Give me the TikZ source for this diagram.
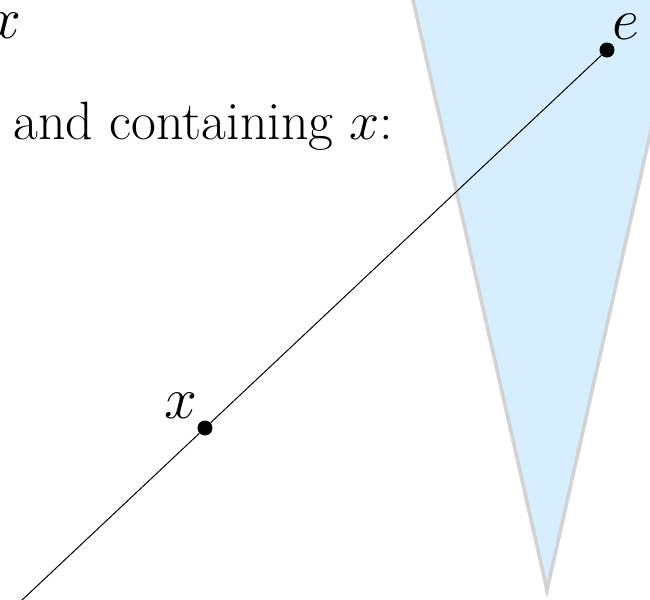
\RequirePackage{fix-cm}
\documentclass[tikz,border=0pt]{standalone}
\usetikzlibrary{positioning}
\definecolor{coneFill}{HTML}{D6EEFF}
\definecolor{coneBorder}{HTML}{D3D3D3}

\begin{document}
\begin{tikzpicture}[x=0.5pt, y=-0.5pt,
    dot/.style={circle, fill=black, inner sep=0pt, minimum size=7.5pt},
    lbl/.style={font=\fontsize{27}{32}\selectfont, inner sep=1pt},
    ptlbl/.style={font=\fontsize{29.5}{35}\selectfont, inner sep=1pt},
    cone/.style={fill=coneFill, draw=coneBorder, line width=1.8pt, line join=miter},
    ray/.style={line width=0.5pt}
]
  \useasboundingbox (0,0) rectangle (650,600);
  \clip (0,0) rectangle (650,600);

  % Cone
  \coordinate (apex) at (547,590);
  \coordinate (coneL) at (408.5,-20);
  \coordinate (coneR) at (685,-20);
  \filldraw[cone] (coneL) -- (apex) -- (coneR);

  % Points
  \node[dot] (e) at (607,50) {};
  \node[dot] (xpt) at (205,428) {};
  \coordinate (lo) at (0,620.8);

  % Line through x and e
  \draw[ray] (lo) -- (xpt) -- (e);

  % Labels
  \node[ptlbl, above right=1.2pt and -1.2pt of e] (elbl) {$e$};
  \node[ptlbl, above left=0.6pt and 0pt of xpt] (xlbl) {$x$};
  \node[lbl, anchor=base] (txt) at (203.5,139) {and containing $x$:};
  \node[ptlbl, anchor=base east] (xtop) at (24,38) {$x$};
\end{tikzpicture}
\end{document}
